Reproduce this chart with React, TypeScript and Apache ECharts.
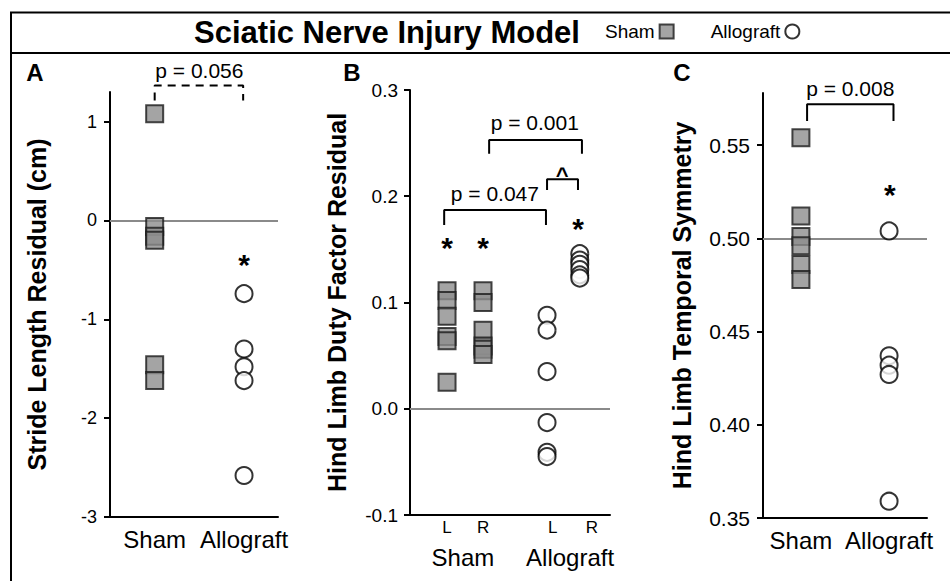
import React, { useEffect, useRef } from "react";
import * as echarts from "echarts";

// ---------- data ----------
const groupNames = ["Sham", "Allograft"];
const sideNames = ["L", "R"];

// Panel A: Stride length residual (cm)
const strideSham = [1.08, -0.06, -0.16, -0.2, -1.46, -1.62];
const strideAllograft = [-0.74, -1.3, -1.48, -1.62, -2.58];
const strideTicks = [-3, -2, -1, 0, 1];

// Panel B: Hind limb duty factor residual
const dutyShamL = [0.111, 0.102, 0.087, 0.068, 0.064, 0.025];
const dutyShamR = [0.111, 0.1, 0.074, 0.059, 0.056, 0.051];
const dutyAllograftL = [0.088, 0.074, 0.035, -0.013, -0.041, -0.045];
const dutyAllograftR = [0.146, 0.14, 0.136, 0.131, 0.126, 0.123];
const dutyTicks = [-0.1, 0, 0.1, 0.2, 0.3];

// Panel C: Hind limb temporal symmetry
const symSham = [0.554, 0.512, 0.501, 0.496, 0.486, 0.478];
const symAllograft = [0.504, 0.437, 0.432, 0.427, 0.359];
const symTicks = [0.35, 0.4, 0.45, 0.5, 0.55];

const pLabels = ["p = 0.056", "p = 0.047", "p = 0.001", "p = 0.008"];

// ---------- layout / style ----------
const FONT = "'Liberation Sans', Arial, Helvetica, sans-serif";
const SHAM_STYLE = { color: "#8d8d8d", borderColor: "#1a1a1a", borderWidth: 2 };
const ALLO_STYLE = { color: "#ffffff", borderColor: "#000000", borderWidth: 2 };
const B_X = [0, 1, 2.78, 3.69]; // Sham L, Sham R, Allograft L, Allograft R

function pts(x: number, vals: number[]) {
  return vals.map((v) => [x, v]);
}

function pointSeries(name: string, idx: number, x: number, vals: number[], refY?: number) {
  const sham = name === "Sham";
  const s: any = {
    type: "scatter",
    name,
    xAxisIndex: idx,
    yAxisIndex: idx,
    data: pts(x, vals),
    symbol: sham ? "rect" : "circle",
    symbolSize: 17,
    itemStyle: sham ? SHAM_STYLE : ALLO_STYLE,
    z: 3,
    silent: true,
  };
  if (refY !== undefined) {
    s.markLine = {
      silent: true,
      z: 1,
      symbol: ["none", "none"],
      label: { show: false },
      lineStyle: { color: "#8a8a8a", width: 2, type: "solid" },
      data: [{ yAxis: refY }],
    };
  }
  return s;
}

function bracket(idx: number, x1: number, x2: number, yLeg: number, yTop: number, dashed = false) {
  return {
    type: "line",
    xAxisIndex: idx,
    yAxisIndex: idx,
    data: [
      [x1, yLeg],
      [x1, yTop],
      [x2, yTop],
      [x2, yLeg],
    ],
    symbol: "none",
    clip: false,
    silent: true,
    z: 4,
    lineStyle: { color: "#000", width: 2, type: dashed ? [8, 6] : "solid" },
  };
}

function textMark(idx: number, x: number, y: number, text: string, size: number, bold: boolean, dy = 0) {
  return {
    type: "custom",
    coordinateSystem: "cartesian2d",
    xAxisIndex: idx,
    yAxisIndex: idx,
    data: [[x, y]],
    clip: false,
    silent: true,
    z: 5,
    renderItem: (_params: any, api: any) => {
      const p = api.coord([api.value(0), api.value(1)]);
      return {
        type: "text",
        x: p[0],
        y: p[1] + dy,
        style: {
          text,
          fill: "#000000",
          fontSize: size,
          fontWeight: bold ? "bold" : "normal",
          fontFamily: FONT,
          align: "center",
          verticalAlign: "middle",
        },
      };
    },
  };
}

function yAxis(idx: number, min: number, max: number, ticks: number[], dec: number, name: string, gap: number, size: number, margin: number) {
  return {
    gridIndex: idx,
    type: "value",
    min,
    max,
    axisLine: { show: true, onZero: false, lineStyle: { color: "#000", width: 2 } },
    axisTick: { show: true, length: 6, customValues: ticks, lineStyle: { color: "#000", width: 2 } },
    axisLabel: {
      customValues: ticks,
      formatter: (v: number) => v.toFixed(dec),
      color: "#000",
      fontSize: size,
      fontFamily: FONT,
      margin,
    },
    splitLine: { show: false },
    name,
    nameLocation: "middle",
    nameGap: gap,
    nameRotate: 90,
    nameTextStyle: { color: "#000", fontSize: 25, fontWeight: "bold", fontFamily: FONT },
  };
}

function xAxis(idx: number, min: number, max: number, values: number[], labelFn: (v: number) => string, size: number, margin: number, showLine = true) {
  return {
    gridIndex: idx,
    type: "value",
    min,
    max,
    position: "bottom",
    axisLine: { show: showLine, onZero: false, lineStyle: { color: "#000", width: 2 } },
    axisTick: { show: false },
    axisLabel: {
      customValues: values,
      formatter: labelFn,
      color: "#000",
      fontSize: size,
      fontFamily: FONT,
      margin,
    },
    splitLine: { show: false },
  };
}

export default function App() {
  const ref = useRef<HTMLDivElement>(null);

  useEffect(() => {
    if (!ref.current) return;
    const chart = echarts.init(ref.current, undefined, { renderer: "svg" });
    const acLabel = (v: number) => groupNames[Math.round(v)] ?? "";
    const bSide = (v: number) => (v < 0.5 ? sideNames[0] : v < 2 ? sideNames[1] : v < 3.5 ? sideNames[0] : sideNames[1]);
    const bGroup = (v: number) => (v < 2 ? groupNames[0] : groupNames[1]);

    chart.setOption({
      animation: false,
      textStyle: { fontFamily: FONT },
      legend: {
        data: groupNames,
        left: 600,
        top: 17,
        align: "right",
        itemGap: 36,
        itemWidth: 14,
        itemHeight: 14,
        selectedMode: false,
        textStyle: { fontSize: 19, color: "#000", fontFamily: FONT },
      },
      grid: [
        { left: 110, top: 92, width: 168, height: 425 },
        { left: 410, top: 90, width: 200, height: 425 },
        { left: 763, top: 93, width: 164, height: 425 },
      ],
      xAxis: [
        xAxis(0, -0.5, 1.38, [0, 1], acLabel, 24, 10),
        xAxis(1, -1.03, 4.53, [0, 1, 2.94, 4.03], bSide, 17, 4),
        xAxis(2, -0.43, 1.43, [0, 1], acLabel, 24, 10),
        xAxis(1, -1.03, 4.53, [0.44, 3.42], bGroup, 24, 30, false),
      ],
      yAxis: [
        yAxis(0, -3, 1.3, strideTicks, 0, "Stride Length Residual (cm)", 61, 18, 13),
        yAxis(1, -0.1, 0.3, dutyTicks, 1, "Hind Limb Duty Factor Residual", 61, 19, 12),
        yAxis(2, 0.35, 0.578, symTicks, 2, "Hind Limb Temporal Symmetry", 69, 21, 13),
      ],
      series: [
        // Panel A
        pointSeries("Sham", 0, 0, strideSham, 0),
        pointSeries("Allograft", 0, 1, strideAllograft),
        bracket(0, 0, 0.99, 1.214, 1.366, true),
        textMark(0, 0.5, 1.52, pLabels[0], 21, false),
        textMark(0, 1, -0.37, "*", 30, true, 7),
        // Panel B
        pointSeries("Sham", 1, B_X[0], dutyShamL, 0),
        pointSeries("Sham", 1, B_X[1], dutyShamR),
        pointSeries("Allograft", 1, B_X[2], dutyAllograftL),
        pointSeries("Allograft", 1, B_X[3], dutyAllograftR),
        bracket(1, -0.08, 2.75, 0.173, 0.187),
        bracket(1, 2.78, 3.64, 0.206, 0.216),
        bracket(1, 1.17, 3.75, 0.24, 0.253),
        textMark(1, 1.33, 0.203, pLabels[1], 21, false),
        textMark(1, 2.44, 0.269, pLabels[2], 21, false),
        textMark(1, 3.2, 0.223, "^", 22, true, 4),
        textMark(1, B_X[0], 0.158, "*", 30, true, 7),
        textMark(1, B_X[1], 0.158, "*", 30, true, 7),
        textMark(1, 3.64, 0.176, "*", 30, true, 7),
        // Panel C
        pointSeries("Sham", 2, 0, symSham, 0.5),
        pointSeries("Allograft", 2, 1, symAllograft),
        bracket(2, 0.07, 1.05, 0.563, 0.572),
        textMark(2, 0.56, 0.5806, pLabels[3], 21, false),
        textMark(2, 1.01, 0.5275, "*", 30, true, 7),
      ],
      graphic: [
        {
          type: "rect",
          shape: { x: 11, y: 12.5, width: 960, height: 600 },
          style: { fill: "none", stroke: "#000", lineWidth: 2 },
          silent: true,
        },
        {
          type: "line",
          shape: { x1: 11, y1: 53, x2: 960, y2: 53 },
          style: { stroke: "#000", lineWidth: 2 },
          silent: true,
        },
        {
          type: "text",
          x: 387,
          y: 32,
          style: {
            text: "Sciatic Nerve Injury Model",
            fontSize: 31,
            fontWeight: "bold",
            fontFamily: FONT,
            fill: "#000",
            align: "center",
            verticalAlign: "middle",
          },
        },
        { type: "text", x: 35, y: 72, style: { text: "A", fontSize: 24, fontWeight: "bold", fontFamily: FONT, fill: "#000", align: "center", verticalAlign: "middle" } },
        { type: "text", x: 352, y: 72, style: { text: "B", fontSize: 24, fontWeight: "bold", fontFamily: FONT, fill: "#000", align: "center", verticalAlign: "middle" } },
        { type: "text", x: 682, y: 72, style: { text: "C", fontSize: 24, fontWeight: "bold", fontFamily: FONT, fill: "#000", align: "center", verticalAlign: "middle" } },
      ],
    });
    return () => chart.dispose();
  }, []);

  return (
    <div
      ref={ref}
      style={{ position: "fixed", left: 0, top: 0, width: 950, height: 581, background: "#fff" }}
    />
  );
}
